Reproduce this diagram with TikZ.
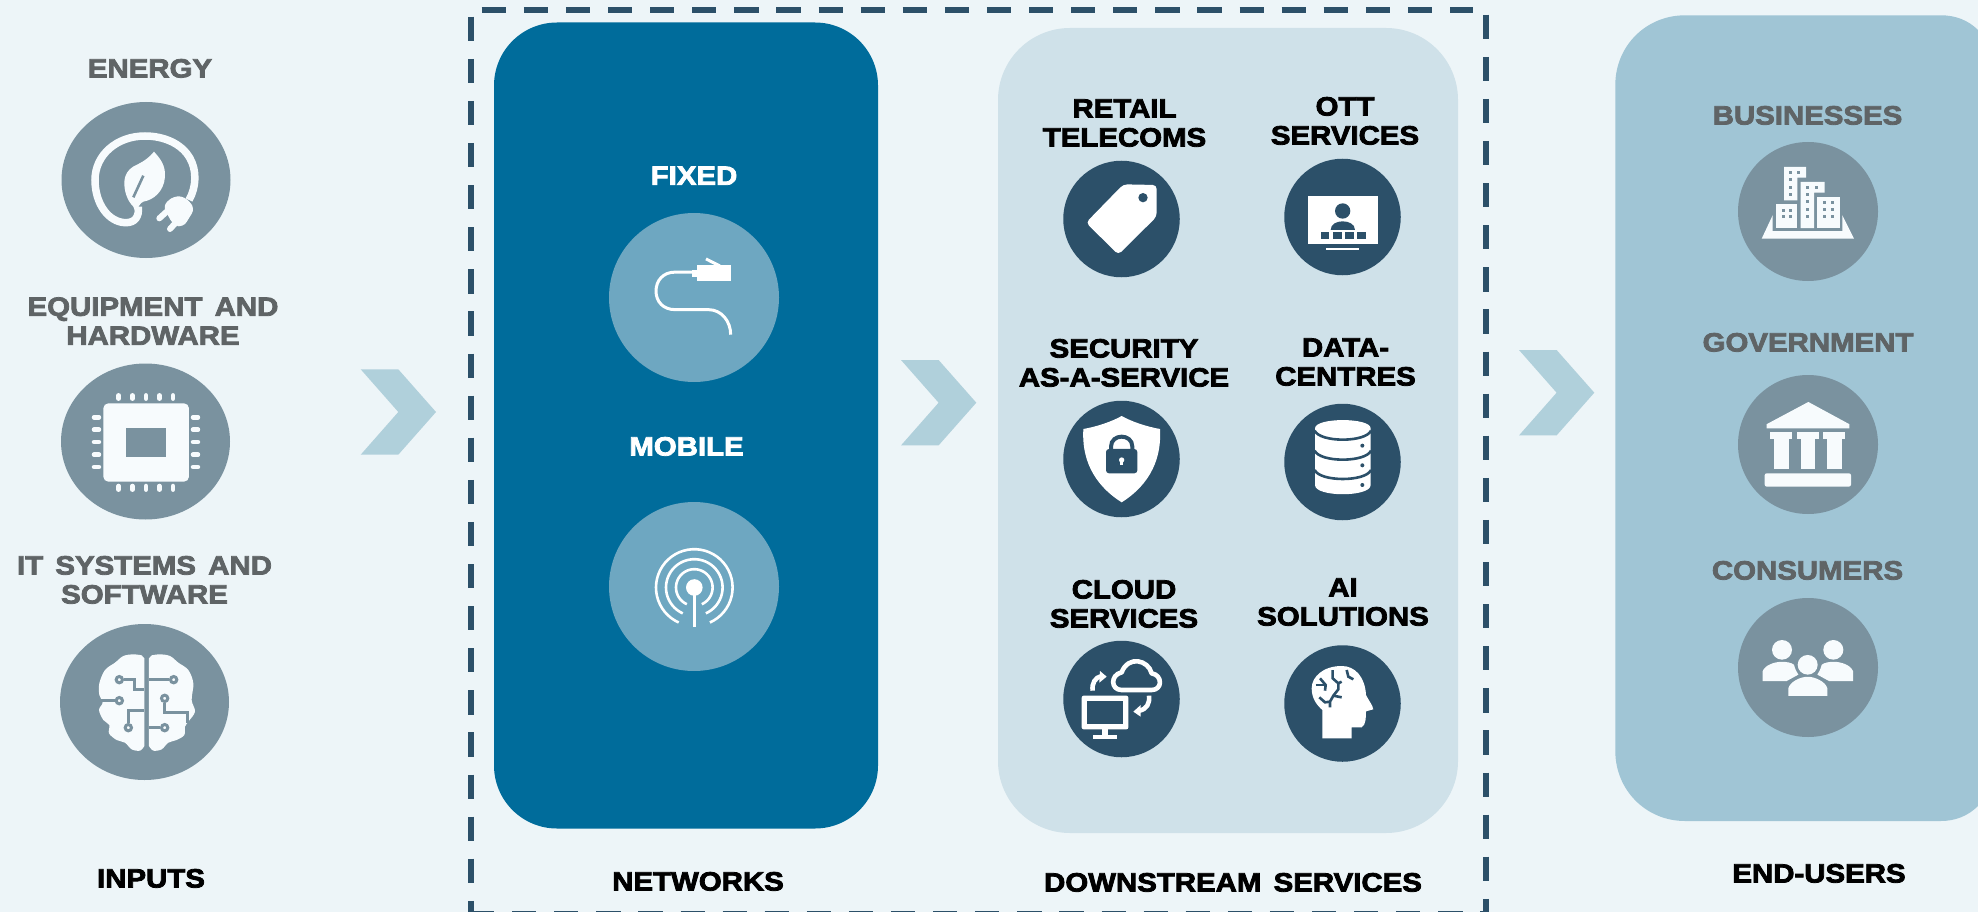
\documentclass[tikz,border=0pt]{standalone}
\usepackage{fontspec}
\usetikzlibrary{shapes.geometric}
\newfontfamily\blk[FakeBold=3,FakeStretch=1.11,WordSpace=1.5]{Liberation Sans Bold}
\definecolor{bgc}{HTML}{EDF5F8}
\definecolor{netc}{HTML}{006C9B}
\definecolor{netcirc}{HTML}{6EA7C1}
\definecolor{downc}{HTML}{CFE1E9}
\definecolor{endc}{HTML}{A0C5D5}
\definecolor{darkc}{HTML}{2C5069}
\definecolor{greyc}{HTML}{7A929F}
\definecolor{greyt}{HTML}{5F6466}
\definecolor{chevc}{HTML}{B0D0DB}
\definecolor{icw}{HTML}{F7FBFD}
\tikzset{
  lbl/.style={inner sep=0pt,anchor=south,align=center,font=\blk\fontsize{26.5}{29}\selectfont},
  lblg/.style={lbl,text=greyt},
  lblk/.style={lbl,text=black},
  lblw/.style={lbl,text=white},
  panel/.style={rectangle,inner sep=0pt,draw=none},
  gcirc/.style={ellipse,inner sep=0pt,fill=greyc,minimum width=169pt,minimum height=156pt},
  ecirc/.style={ellipse,inner sep=0pt,fill=greyc,minimum width=140pt,minimum height=139pt},
  ncirc/.style={ellipse,inner sep=0pt,fill=netcirc,minimum width=170pt,minimum height=169pt},
  dcirc/.style={circle,inner sep=0pt,fill=darkc,minimum size=116.5pt},
  dashline/.style={draw=darkc,line width=6pt,dash pattern=on 24.2pt off 17.9pt},
  chev/.style={fill=chevc},
}
\newcommand\mychev[2]{\fill[chev] (#1,#2) -- ++(37.6,0) -- ++(37.7,42.7) -- ++(-37.7,42.7) -- ++(-37.6,0) -- ++(37.6,-42.7) -- cycle;}
\begin{document}
\begin{tikzpicture}[x=1pt,y=-1pt]
\useasboundingbox (0,0) rectangle (1978,912);
\clip (0,0) rectangle (1978,912);
\fill[bgc] (0,0) rectangle (1978,912);

% panels
\node[panel,fill=netc,rounded corners=63pt,minimum width=384pt,minimum height=806pt] (networks) at (686,425.5) {};
\node[panel,fill=downc,rounded corners=72pt,minimum width=460pt,minimum height=805pt] (downstream) at (1228,430.5) {};
\fill[endc] (1615.3,85) .. controls (1615.3,46) and (1646,15.3) .. (1685,15.3) -- (1941,15.3) .. controls (1955,15.3) and (1968,20) .. (1978,30) -- (1978,806) .. controls (1968,816) and (1955,821) .. (1941,821) -- (1685,821) .. controls (1646,821) and (1615.3,790) .. (1615.3,751) -- cycle;

% dashed frame
\draw[dashline] (481.7,10.3) -- (1473,10.3);
\draw[dashline] (470.7,16.7) -- (470.7,918);
\draw[dashline] (1486.3,14.7) -- (1486.3,918);
\draw[dashline] (470,913.5) -- (1489.3,913.5);

% chevrons
\mychev{360.7}{369.3}
\mychev{901}{360}
\mychev{1519}{350}

% labels
\node[lblg] (lenergy) at (150,78) {ENERGY};
\node[lblg] (lequip) at (153,345) {EQUIPMENT AND\\HARDWARE};
\node[lblg] (lit) at (144.5,604) {IT SYSTEMS AND\\SOFTWARE};
\node[lblk] (linputs) at (151,888) {INPUTS};
\node[lblw] (lfixed) at (694,185) {FIXED};
\node[lblw] (lmobile) at (686.5,456) {MOBILE};
\node[lblk] (lnet) at (698,891) {NETWORKS};
\node[lblk] (lretail) at (1124.5,147) {RETAIL\\TELECOMS};
\node[lblk] (lott) at (1345,145) {OTT\\SERVICES};
\node[lblk] (lsec) at (1124,387) {SECURITY\\AS-A-SERVICE};
\node[lblk] (ldata) at (1345.5,386) {DATA-\\CENTRES};
\node[lblk] (lcloud) at (1124,628) {CLOUD\\SERVICES};
\node[lblk] (lai) at (1343,626) {AI\\SOLUTIONS};
\node[lblk] (ldown) at (1233,892) {DOWNSTREAM SERVICES};
\node[lblk] (lend) at (1819,883) {END-USERS};
\node[lblg] (lbus) at (1807.5,125) {BUSINESSES};
\node[lblg] (lgov) at (1808,352) {GOVERNMENT};
\node[lblg] (lcons) at (1807.5,580) {CONSUMERS};

% circles
\node[gcirc] (energy) at (146,180) {};
\node[gcirc] (equip) at (145.5,441.5) {};
\node[gcirc] (itsys) at (144.5,702) {};
\node[ncirc] (fixed) at (694,297.5) {};
\node[ncirc] (mobile) at (694,586.5) {};
\node[dcirc] (retail) at (1121.5,219) {};
\node[dcirc] (ott) at (1342.5,217) {};
\node[dcirc] (secu) at (1121.5,459) {};
\node[dcirc] (data) at (1342.5,462) {};
\node[dcirc] (cloud) at (1121.5,699) {};
\node[dcirc] (aisol) at (1342.5,703.5) {};
\node[ecirc] (biz) at (1808,211.5) {};
\node[ecirc] (gov) at (1808,444.5) {};
\node[ecirc] (cons) at (1808,667.5) {};

% energy icon
\begin{scope}[shift={(0,30)},scale=1/3]
\draw[icw,line width=7.5pt] (567,510) .. controls (590,470) and (590,420) .. (570,385) .. controls (545,340) and (490,318) .. (435,318) .. controls (350,318) and (285,375) .. (285,450) .. controls (285,520) and (325,578) .. (378,578) .. controls (405,578) and (418,560) .. (415,530);
\fill[icw] (462,365) .. controls (480,385) and (497,405) .. (495,440) .. controls (492,485) and (460,510) .. (430,515) .. controls (420,518) and (412,535) .. (408,550) -- (400,530) .. controls (380,510) and (372,480) .. (373,455) .. controls (375,425) and (395,410) .. (415,402) .. controls (435,392) and (450,380) .. (462,365) -- cycle;
\draw[greyc,line width=2.6pt] (430,437) -- (400,502);
\fill[icw,rounded corners=6pt] (488,528) -- (520,498) -- (555,500) -- (585,535) -- (550,592) -- (520,585) -- cycle;
\draw[icw,line width=6pt,line cap=round] (500,545) -- (478,565);
\draw[icw,line width=6pt,line cap=round] (530,575) -- (510,597);
\end{scope}

% chip icon
\begin{scope}[shift={(0,30)},scale=1/3]
\fill[icw,rounded corners=5pt] (310,1120) rectangle (567,1355);
\fill[greyc] (377,1193) rectangle (499,1280);
\foreach \p in {356,397,438,478,519}{
  \draw[icw,line width=4.5pt,line cap=round] (\p,1096) -- (\p,1106);
  \draw[icw,line width=4.5pt,line cap=round] (\p,1368) -- (\p,1379);
}
\foreach \p in {1162,1199,1236,1274,1311}{
  \draw[icw,line width=4.5pt,line cap=round] (282,\p) -- (297,\p);
  \draw[icw,line width=4.5pt,line cap=round] (579,\p) -- (594,\p);
}
\end{scope}

% brain icon
\begin{scope}[shift={(0,530)},scale=1/3]
\fill[icw] (433,385) -- plot[smooth,tension=0.55] coordinates {(425,376) (400,373) (370,378) (345,398) (315,420) (298,460) (298,495) (308,518) (297,540) (310,570) (328,585) (327,610) (350,630) (375,638) (395,658) (420,662) (433,648)} -- cycle;
\fill[icw] (447,385) -- plot[smooth,tension=0.55] coordinates {(455,376) (480,373) (510,378) (535,398) (565,420) (580,460) (575,510) (585,545) (565,575) (555,590) (553,615) (530,630) (505,638) (485,658) (460,662) (447,648)} -- cycle;
\begin{scope}[greyc,line width=3pt]
\draw (372,449) -- (405,449) -- (405,478) -- (433,478);
\draw (298,512) -- (345,512);
\draw (385,578) -- (385,542) -- (433,542);
\draw (447,449) -- (507,449);
\draw (494,520) -- (494,547) -- (562,547) -- (562,578);
\draw (447,593) -- (480,593);
\end{scope}
\foreach \c in {(358,449),(358,512),(385,593),(521,449),(494,505),(494,593)}{
  \fill[icw,draw=greyc,line width=3pt] \c circle[radius=9.5];
}
\end{scope}

% cable icon
\begin{scope}[shift={(580,150)},xscale=1/3,yscale=1/2.8]
\draw[white,line width=3pt] (340,342) -- (285,342) .. controls (250,342) and (228,365) .. (228,395) .. controls (228,425) and (250,447) .. (285,447) -- (385,447) .. controls (425,447) and (452,480) .. (452,517);
\fill[white] (352,322) rectangle (452,368);
\fill[white] (337,335) rectangle (352,355);
\draw[white,line width=3pt] (378,305) -- (420,325);
\end{scope}

% antenna icon
\begin{scope}
\foreach \r in {18.3,28.3,38.3}{
  \draw[white,line width=2.6pt] plot[domain=114:426,samples=48,smooth] ({694.3+\r*cos(\x)},{587.5+\r*sin(\x)});
}
\fill[white] (694.3,587.5) circle[radius=8.3];
\draw[white,line width=3pt] (694.3,590) -- (694.3,626.5);
\end{scope}

\begin{scope}[shift={(1040,80)},scale=1/3]
% tag
\fill[white,rounded corners=4pt] (250,313) -- (350,315) -- (350,410) -- (235,524) -- (138,428) -- cycle;
\fill[darkc] (309,353) circle[radius=14];
% ott
\fill[white] (805,349) rectangle (1013,492);
\fill[darkc] (908,393) circle[radius=23];
\fill[darkc] (872,450) .. controls (872,432) and (890,424) .. (908,424) .. controls (926,424) and (945,432) .. (945,450) -- cycle;
\foreach \p in {842,879,915,951}{\fill[darkc] (\p,457) rectangle (\p+26,476);}
\fill[white] (858,503) rectangle (958,511);
% shield
\fill[white] (245,1008) .. controls (275,1025) and (320,1040) .. (360,1047) .. controls (365,1130) and (335,1210) .. (245,1267) .. controls (155,1210) and (125,1130) .. (130,1047) .. controls (170,1040) and (215,1025) .. (245,1008) -- cycle;
\fill[darkc,rounded corners=3pt] (198,1107) rectangle (292,1180);
\draw[darkc,line width=4pt] (213,1110) -- (213,1100) .. controls (213,1060) and (277,1060) .. (277,1100) -- (277,1110);
\fill[white] (245,1140) circle[radius=8];
\fill[white] (241,1140) rectangle (249,1156);
% database
\fill[white] (825,1045) .. controls (825,1012) and (992,1012) .. (992,1045) -- (992,1215) .. controls (992,1252) and (825,1252) .. (825,1215) -- cycle;
\draw[darkc,line width=2.6pt] (824,1052) .. controls (840,1088) and (977,1088) .. (993,1052);
\draw[darkc,line width=2.6pt] (824,1112) .. controls (840,1148) and (977,1148) .. (993,1112);
\draw[darkc,line width=2.6pt] (824,1170) .. controls (840,1206) and (977,1206) .. (993,1170);
\foreach \p in {1097,1156,1215}{\fill[darkc] (967,\p) circle[radius=6];}
\end{scope}

\begin{scope}[shift={(1040,540)},scale=1/3]
% monitor
\fill[white,rounded corners=2pt] (125,467) rectangle (265,568);
\fill[darkc] (141,482) rectangle (250,552);
\fill[white] (185,568) rectangle (205,585);
\fill[white] (160,585) rectangle (232,598);
% cloud
\draw[white,line width=4.6pt,line join=round] (245,450) -- (335,450) .. controls (368,450) and (368,405) .. (335,400) .. controls (325,360) and (265,345) .. (245,397) .. controls (210,405) and (212,450) .. (245,450) -- cycle;
% arrows
\draw[white,line width=4.6pt] (158,452) .. controls (155,430) and (165,412) .. (185,408);
\fill[white] (180,393) -- (200,410) -- (178,428) -- cycle;
\draw[white,line width=4.6pt] (327,467) .. controls (330,490) and (320,508) .. (298,512);
\fill[white] (302,495) -- (280,515) -- (302,530) -- cycle;
% head
\fill[white] (847,595) -- (935,595) -- (935,562) -- (965,562) .. controls (978,555) and (978,530) .. (978,514) -- (1000,508) .. controls (998,495) and (985,480) .. (978,465) .. controls (975,410) and (945,378) .. (905,378) .. controls (850,378) and (815,410) .. (815,445) .. controls (815,475) and (830,495) .. (847,510) -- cycle;
\end{scope}

% head circuits
\begin{scope}[shift={(1285,650)},scale=1/3]
\begin{scope}[darkc,line width=2.6pt]
\draw (143,60) -- (143,85) -- (160,100) -- (160,118) -- (145,137) -- (135,155) -- (135,172);
\draw (103,142) -- (120,157) -- (135,155);
\draw (145,137) -- (170,142);
\draw (160,100) -- (170,95);
\draw (105,85) -- (122,105) -- (120,122);
\draw (92,105) -- (122,105);
\draw (185,60) -- (190,80) -- (205,88);
\end{scope}
\end{scope}

% businesses
\begin{scope}[shift={(1690,90)},xscale=1/3,yscale=1/2.34]
\fill[icw] (215,348) -- (492,348) -- (457,293) -- (457,330) -- (248,330) -- (248,293) -- cycle;
\fill[icw] (258,267) rectangle (320,323);
\fill[icw] (332,215) -- (404,215) -- (404,240) -- (372,240) -- (372,323) -- (332,323) -- cycle;
\fill[icw] (382,250) rectangle (449,323);
\fill[icw] (282,180) -- (348,180) -- (348,205) -- (322,205) -- (322,258) -- (282,258) -- cycle;
\foreach \a/\b in {302/192,325/192,302/210,302/227,302/245,353/228,380/228,353/244,353/262,353/279,353/297,403/263,427/263,403/280,427/280,403/297,427/297,280/282,302/282,280/297,302/297}{
  \fill[greyc] (\a-5,\b-3.5) rectangle (\a+5,\b+3.5);
}
% government
\fill[icw] (355,730) -- (478,782) -- (478,792) -- (230,792) -- (230,782) -- cycle;
\foreach \p in {274,354,433}{
  \fill[icw] (\p-33,800) rectangle (\p+33,816);
  \fill[icw] (\p-22,816) rectangle (\p+22,888);
}
\fill[icw,rounded corners=2pt] (224,897) rectangle (483,928);
% consumers
\fill[icw] (276,1310) ellipse[x radius=30,y radius=23];
\fill[icw] (430,1310) ellipse[x radius=30,y radius=23];
\fill[icw] (353,1345) ellipse[x radius=30,y radius=23];
\fill[icw] (295,1418) -- (295,1400) .. controls (300,1385) and (330,1373) .. (353,1373) .. controls (376,1373) and (407,1385) .. (412,1400) -- (412,1418) -- cycle;
\fill[icw] (218,1383) -- (218,1360) .. controls (225,1345) and (255,1338) .. (275,1338) .. controls (290,1338) and (305,1340) .. (312,1345) .. controls (315,1355) and (320,1362) .. (325,1368) -- (290,1383) -- cycle;
\fill[icw] (489,1383) -- (489,1360) .. controls (482,1345) and (452,1338) .. (432,1338) .. controls (417,1338) and (402,1340) .. (395,1345) .. controls (392,1355) and (387,1362) .. (382,1368) -- (417,1383) -- cycle;
\end{scope}
\end{tikzpicture}
\end{document}
